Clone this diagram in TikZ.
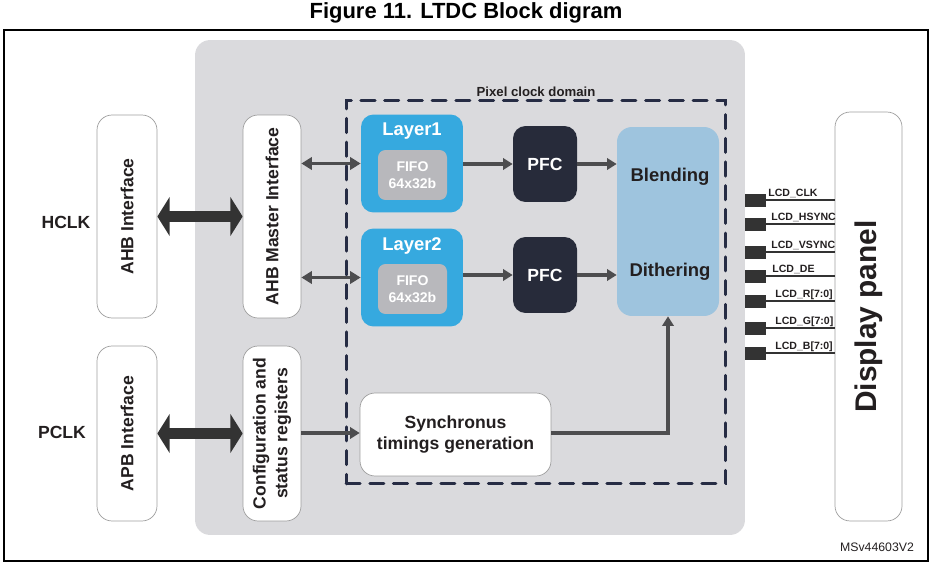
\documentclass[tikz,border=0pt]{standalone}
\usepackage{fontspec}
\setmainfont{Liberation Sans}
\usetikzlibrary{arrows.meta,positioning}

\definecolor{panelgray}{RGB}{218,218,221}
\definecolor{domainblue}{RGB}{38,44,68}
\definecolor{layerblue}{RGB}{54,169,223}
\definecolor{fifogray}{RGB}{184,184,188}
\definecolor{pfcdark}{RGB}{39,43,58}
\definecolor{blendblue}{RGB}{158,196,222}
\definecolor{linkgray}{RGB}{77,77,79}
\definecolor{arrowdark}{RGB}{51,51,51}
\definecolor{textdark}{RGB}{35,31,32}

\begin{document}
\begin{tikzpicture}[
	x=0.02cm, y=-0.02cm,
	vbox/.style={
		rectangle,
		draw=gray!75,
		fill=white,
		rotate=90,
		align=center,
		rounded corners=0.3cm,
		inner sep=0pt,
		text=textdark,
		font=\bfseries\fontsize{10}{12.5}\selectfont
	},
	layer/.style={
		rectangle,
		fill=layerblue,
		rounded corners=0.25cm,
		minimum width=2.04cm,
		minimum height=1.96cm
	},
	fifo/.style={
		rectangle,
		fill=fifogray,
		rounded corners=0.15cm,
		align=center,
		text=white,
		font=\bfseries\fontsize{8}{10}\selectfont,
		minimum width=1.38cm,
		minimum height=1cm
	},
	pfc/.style={
		rectangle,
		fill=pfcdark,
		rounded corners=0.25cm,
		text=white,
		font=\bfseries\fontsize{10}{12}\selectfont,
		minimum width=1.28cm,
		minimum height=1.52cm
	},
	caption/.style={
		text=textdark,
		font=\bfseries\fontsize{10}{12}\selectfont
	},
	link/.style={
		draw=linkgray,
		line width=2.2pt,
		-{Triangle[length=5.5pt,width=6.5pt]}
	},
	biglink/.style={
		draw=linkgray,
		line width=2.2pt,
		{Triangle[length=6pt,width=7pt]}-{Triangle[length=6pt,width=7pt]}
	},
	bus/.style={
		draw=arrowdark,
		line width=6.2pt,
		{Triangle[length=7pt,width=22pt]}-{Triangle[length=7pt,width=22pt]}
	},
	sigline/.style={
		draw=arrowdark,
		line width=1.7pt
	},
	siglabel/.style={
		anchor=base west,
		inner sep=0pt,
		text=textdark,
		font=\bfseries\fontsize{6}{7}\selectfont
	},
]

\useasboundingbox (0,0) rectangle (932,564);

% Title and frame
\node[font=\bfseries\fontsize{12.5}{14}\selectfont] (title) at (466,13) {Figure 11. LTDC Block digram};
\draw[black, line width=0.8pt] (4,30) rectangle (928,561);

% LTDC
\node[rectangle, fill=panelgray, rounded corners=0.3cm, minimum width=11cm, minimum height=9.9cm]
(ltdc) at (470,287.5) {};
\node[rectangle, draw=domainblue, line width=1.7pt, line cap=round, dash pattern=on 8pt off 5.5pt,
minimum width=7.6cm, minimum height=7.68cm] (domain) at (536,292) {};
\node[anchor=south, inner sep=1pt, text=textdark, font=\bfseries\fontsize{7.5}{9}\selectfont]
(domaintxt) at (domain.north) {Pixel clock domain};

% Interfaces
\node[vbox, minimum width=4.06cm, minimum height=1.2cm] (ahb) at (127,216.5) {AHB Interface};
\node[vbox, minimum width=3.5cm, minimum height=1.2cm] (apb) at (127,433.5) {APB Interface};
\node[vbox, minimum width=4.06cm, minimum height=1.16cm] (ahbm) at (272,216.5) {AHB Master Interface};
\node[vbox, minimum width=3.5cm, minimum height=1.16cm] (conf) at (272,433.5) {Configuration and\\status registers};

\node[caption] (hclk) at (66,222) {HCLK};
\node[caption] (pclk) at (62,432) {PCLK};

% Layers
\foreach \i/\y in {1/163.5, 2/277.5} {
	\node[layer] (layer\i) at (412,\y) {};
	\node[text=white, font=\bfseries\fontsize{10.5}{12}\selectfont] (layertxt\i) at (412,\y-32) {Layer\i};
	\node[fifo] (fifo\i) at (412.5,\y+11.5) {FIFO\\64x32b};
}

\node[pfc] (pfc1) at (545,164) {PFC};
\node[pfc] (pfc2) at (545,275) {PFC};

\node[rectangle, fill=blendblue, rounded corners=0.3cm, minimum width=2.04cm, minimum height=3.78cm]
(blend) at (668,221.5) {};
\node[caption, font=\bfseries\fontsize{10.5}{12}\selectfont] (blendtxt) at (670,177) {Blending};
\node[caption, font=\bfseries\fontsize{10.5}{12}\selectfont] (dithtxt) at (670,272) {Dithering};

\node[rectangle, draw=gray!75, fill=white, rounded corners=0.3cm, align=center, text=textdark,
font=\bfseries\fontsize{10}{12.5}\selectfont, minimum width=3.82cm, minimum height=1.66cm]
(sync) at (455.5,434.5) {Synchronus\\timings generation};

% Display
\node[vbox, font=\bfseries\fontsize{17}{20}\selectfont, minimum width=8.18cm, minimum height=1.34cm]
(disp) at (868.5,316.5) {Display panel};

% Buses
\draw[bus] (ahb) -- (ahbm);
\draw[bus] (apb) -- (conf);

% Links
\draw[biglink] (ahbm.south |- layer1) -- (layer1);
\draw[biglink] (ahbm.south |- layer2) -- (layer2);
\draw[link] (layer1.east |- pfc1) -- (pfc1);
\draw[link] (layer2.east |- pfc2) -- (pfc2);
\draw[link] (pfc1) -- (blend.west |- pfc1);
\draw[link] (pfc2) -- (blend.west |- pfc2);
\draw[link] (conf.south |- 0,433) -- (sync.west |- 0,433);
\draw[link] (sync.east |- 0,433) -| (blend.south);

% Signals
\foreach \lbl/\y/\dx in {LCD\_CLK/200/768, LCD\_HSYNC/224/771, LCD\_VSYNC/252/771, LCD\_DE/276/772,
	{LCD\_R[7:0]}/301/775, {LCD\_G[7:0]}/328/775, {LCD\_B[7:0]}/353/775} {
	\fill[arrowdark] (ltdc.east |- 0,\y-6) rectangle (766,\y+7);
	\coordinate (sig\y) at (766,\y);
	\draw[sigline] (sig\y) -- (sig\y -| disp.north);
	\node[siglabel] (lbl\y) at (\dx,\y-4) {\lbl};
}

\node[text=textdark, font=\fontsize{7}{8}\selectfont] (ref) at (877,547) {MSv44603V2};

\end{tikzpicture}
\end{document}
